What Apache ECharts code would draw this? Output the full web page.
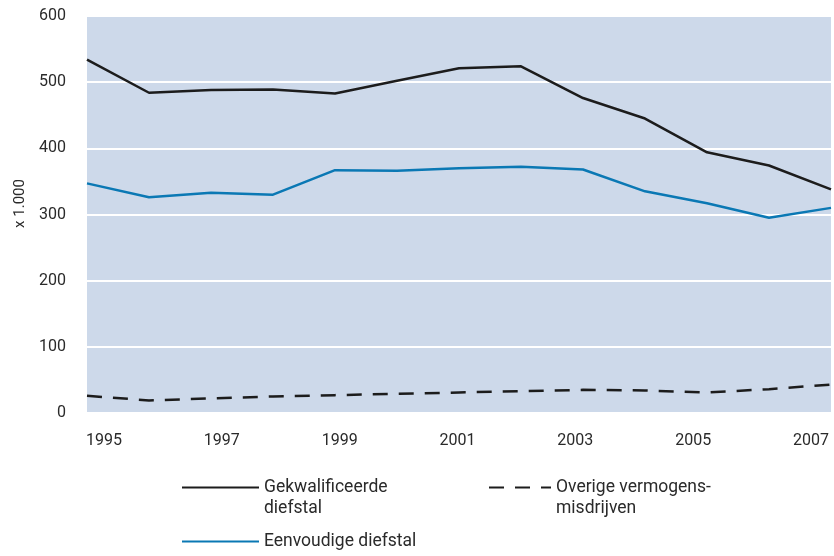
<!DOCTYPE html>
<html>
<head>
<meta charset="utf-8">
<script src="https://cdn.jsdelivr.net/npm/echarts@6/dist/echarts.min.js"></script>
<style>
  html, body { margin: 0; padding: 0; background: #fff; }
  #main { width: 834px; height: 556px; }
</style>
</head>
<body>
<div id="main"></div>
<script>
// data points (13 per series, x 1.000)
var years = ['1995', '1996', '1997', '1998', '1999', '2000', '2001',
             '2002', '2003', '2004', '2005', '2006', '2007'];
var gekwalificeerd = [534, 484, 488, 489, 483, 502, 521, 524, 476, 445, 394, 374, 338];
var eenvoudig = [347, 326, 333, 330, 367, 366, 370, 372, 368, 335, 317, 295, 310];
var overig = [26, 19, 22, 25, 27, 29, 31, 33, 35, 34, 31, 36, 43];

// labels on the time axis
var yearTicks = [1995, 1997, 1999, 2001, 2003, 2005, 2007];

var chart = echarts.init(document.getElementById('main'));

var txt = '#2a2a2a';
var font = 'Roboto, "Noto Sans", sans-serif';

// legend with the icon level with the first text line (blank line on top)
function legendBlock(name, lines, left, top, w) {
    return {
        left: left, top: top, padding: 0, itemWidth: w, itemHeight: 14,
        itemStyle: { opacity: 0 },
        data: [name],
        formatter: function () { return lines.length > 1 ? '\n' + lines.join('\n') : lines[0]; },
        textStyle: { fontSize: 17.5, color: txt, lineHeight: 21 }
    };
}

var option = {
    backgroundColor: '#fff',
    animation: false,
    textStyle: { fontFamily: font },
    grid: {
        left: 87, right: 3, top: 16, bottom: 143,
        show: true, backgroundColor: '#cdd9ea', borderWidth: 0,
        containLabel: false
    },
    legend: [
        legendBlock('Gekwalificeerde diefstal', ['Gekwalificeerde', 'diefstal'], 181, 456, 77),
        legendBlock('Overige vermogensmisdrijven', ['Overige vermogens-', 'misdrijven'], 488, 456, 62),
        legendBlock('Eenvoudige diefstal', ['Eenvoudige diefstal'], 181, 531, 77)
    ],
    xAxis: [
        {
            type: 'category', data: years, boundaryGap: false,
            axisLine: { show: false }, axisTick: { show: false },
            axisLabel: { show: false }, splitLine: { show: false }
        },
        {
            type: 'value', position: 'bottom',
            min: 1994.712, max: 2007.339,
            axisLine: { show: false }, axisTick: { show: false },
            splitLine: { show: false },
            axisLabel: {
                customValues: yearTicks, color: txt, fontSize: 16, margin: 20,
                formatter: function (v) { return String(v); }
            }
        }
    ],
    yAxis: {
        type: 'value', min: 0, max: 600, interval: 100,
        name: 'x 1.000', nameLocation: 'middle', nameGap: 55, nameRotate: 90,
        nameTextStyle: { color: txt, fontSize: 15, padding: [0, 0, 0, 22] },
        axisLine: { show: false }, axisTick: { show: false },
        axisLabel: { color: txt, fontSize: 16, margin: 21 },
        splitLine: { lineStyle: { color: '#fff', width: 2 } }
    },
    series: [
        {
            name: 'Gekwalificeerde diefstal', type: 'line', data: gekwalificeerd,
            symbol: 'none', color: '#1c1c1c',
            lineStyle: { color: '#1c1c1c', width: 2.5 }
        },
        {
            name: 'Eenvoudige diefstal', type: 'line', data: eenvoudig,
            symbol: 'none', color: '#0a78b4',
            lineStyle: { color: '#0a78b4', width: 2.5 }
        },
        {
            name: 'Overige vermogensmisdrijven', type: 'line', data: overig,
            symbol: 'none', color: '#1c1c1c',
            lineStyle: { color: '#1c1c1c', width: 2.5, type: [15, 11] }
        }
    ]
};

chart.setOption(option);
</script>
</body>
</html>
